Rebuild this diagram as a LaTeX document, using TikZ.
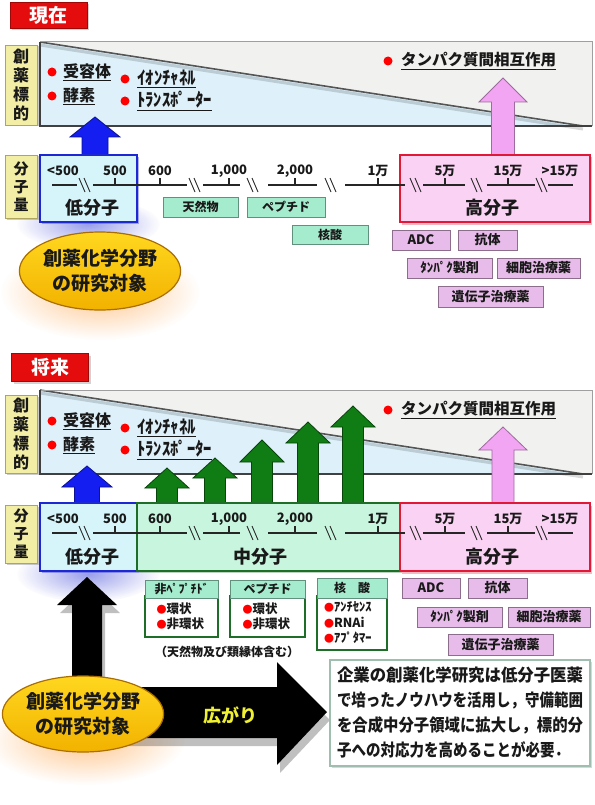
\documentclass[tikz,border=0pt]{standalone}
\usepackage{fontspec}
\setmainfont{Noto Sans CJK JP}
\usepackage{graphicx}
\usetikzlibrary{shadows,fadings,shapes.geometric}
\definecolor{tagred}{RGB}{228,12,12}
\definecolor{labyel}{RGB}{243,238,165}
\definecolor{labyeld}{RGB}{175,165,95}
\definecolor{bandblue}{RGB}{222,240,250}
\definecolor{bandgray}{RGB}{241,241,239}
\definecolor{bandline}{RGB}{85,85,85}
\definecolor{lowfill}{RGB}{214,245,250}
\definecolor{lowdraw}{RGB}{30,40,210}
\definecolor{midfill}{RGB}{200,245,222}
\definecolor{middraw}{RGB}{30,110,40}
\definecolor{hifill}{RGB}{250,210,243}
\definecolor{hidraw}{RGB}{225,25,55}
\definecolor{mint}{RGB}{165,235,205}
\definecolor{mintd}{RGB}{95,145,125}
\definecolor{pinkb}{RGB}{232,188,234}
\definecolor{pinkbd}{RGB}{140,110,140}
\definecolor{arrblue}{RGB}{20,30,240}
\definecolor{arrpink}{RGB}{242,165,242}
\definecolor{arrgreen}{RGB}{15,125,20}
\definecolor{ellfill}{RGB}{248,200,10}
\definecolor{elldraw}{RGB}{170,110,0}
\definecolor{txt}{RGB}{25,25,25}
\definecolor{boxline}{RGB}{160,190,175}
\definecolor{glyellow}{RGB}{240,240,50}
\newcommand\fs[1]{\fontsize{#1}{#1}\selectfont\bfseries}
\tikzfading[name=fuzzy, inner color=transparent!0, outer color=transparent!100]
\newcommand\blkup[7]{\draw[#1] (#2,#3) -- (#2+#4,#5) -- (#2+#6,#5) -- (#2+#6,#7) -- (#2-#6,#7) -- (#2-#6,#5) -- (#2-#4,#5) -- cycle;}
\newcommand\btn[7]{%
 \pgfmathsetmacro\mybw{#5-#3}\pgfmathsetmacro\mybh{#6-#4}%
 \pgfmathsetmacro\mybx{(#3+#5)/2}\pgfmathsetmacro\myby{(#4+#6)/2}%
 \node[#2, minimum width=\mybw pt, minimum height=\mybh pt] (#1) at (\mybx,\myby) {#7};}
\newcommand\drawband[1]{%
 \fill[bandblue] (40,#1) rectangle (592,#1+84);
 \fill[bandgray] (40,#1) -- (592,#1) -- (592,#1+84) -- (583,#1+84) -- cycle;
 \draw[black, line width=3, opacity=0.15] (40,#1+3) -- (583,#1+87);
 \draw[bandline, line width=1.6] (40,#1) -- (583,#1+84);
 \draw[gray!75, line width=1] (40,#1) -- (592,#1) -- (592,#1+84);
 \draw[black!75, line width=1.6] (592,#1+84) -- (40,#1+84) -- (40,#1);
}
\newcommand\bandtexts[2]{%
 \node[reddot] (da#2) at (52,72+#1) {};
 \node[tgt] (ta#2) at (63,72+#1) {\underline{受容体}};
 \node[reddot] (db#2) at (52,96+#1) {};
 \node[tgt] (tb#2) at (63,96+#1) {\underline{酵素}};
 \node[reddot] (dc#2) at (125,79+#1) {};
 \node[tgt, font=\fs{18}] (tc#2) at (137,79+#1) {\underline{\resizebox{59pt}{\height}{ｲｵﾝﾁｬﾈﾙ}}};
 \node[reddot] (dd#2) at (125,101+#1) {};
 \node[tgt, font=\fs{18}] (td#2) at (137,101+#1) {\underline{\resizebox{75pt}{\height}{ﾄﾗﾝｽﾎﾟｰﾀｰ}}};
 \node[reddot] (de#2) at (388,61+#1) {};
 \node[tgt, font=\fs{15.5}] (te#2) at (401,61+#1) {\underline{タンパク質間相互作用}};
}
\newcommand\molaxis[2]{%
 \foreach \a/\b in {52/77,93/187,203/240,268/317,345/405,423/465,487/535,548/573} \draw[axl] (\a,#1) -- (\b,#1);
 \foreach \c in {85,195,253,331,416,477,542} {\draw[brk] (\c-6,#1-7) -- (\c,#1+7); \draw[brk] (\c-1,#1-7) -- (\c+5,#1+7);}
 \foreach \c in {115,160,229,295,378,445,508} \draw[tck] (\c,#1) -- (\c,#1-7);
 \foreach \x/\t [count=\i] in {63/{<500},115/500,160/600,229/{1,000},295/{2,000},378/1万,445/5万,508/15万,560/{>15万}} \node[ticklab] (tl#2-\i) at (\x,#1-14) {\t};
}
\begin{document}
\begin{tikzpicture}[x=1pt,y=-1pt,
 redtag/.style={fill=tagred, draw=tagred!70!black, line width=0.8, text=white, font=\fs{19}, inner sep=0, minimum width=77pt, drop shadow={opacity=0.35,shadow xshift=2pt,shadow yshift=-2pt}},
 labbox/.style={fill=labyel, draw=labyeld, line width=0.8, align=center, text=txt, inner sep=0, minimum width=32pt, drop shadow={shadow xshift=1.5pt, shadow yshift=-1.5pt, opacity=0.4}},
 reddot/.style={circle, fill=red, minimum size=9pt, inner sep=0},
 tgt/.style={font=\fs{16}, text=txt, anchor=west, inner sep=0},
 axl/.style={line width=1.1, black!85},
 brk/.style={line width=0.9, black!85},
 tck/.style={line width=2.2, black!85},
 ticklab/.style={font=\fs{13}, text=txt, inner sep=0},
 lowbox/.style={fill=lowfill, draw=lowdraw, line width=1.6, inner sep=0, drop shadow={shadow xshift=1.5pt, shadow yshift=-2pt, fill=lowdraw, opacity=0.35}},
 midbox/.style={fill=midfill, draw=middraw, line width=1.6, inner sep=0, drop shadow={shadow xshift=1.5pt, shadow yshift=-2pt, fill=middraw, opacity=0.3}},
 hibox/.style={fill=hifill, draw=hidraw, line width=1.6, inner sep=0, drop shadow={shadow xshift=1.5pt, shadow yshift=-2.5pt, fill=hidraw, opacity=0.3}},
 cls/.style={font=\fs{18}, text=txt, inner sep=0},
 btnG/.style={fill=mint, draw=mintd, line width=1, font=\fs{12}, text=txt, inner sep=0, drop shadow={shadow xshift=1.3pt, shadow yshift=-1.3pt, opacity=0.6, fill=mintd}},
 btnP/.style={fill=pinkb, draw=pinkbd, line width=1, font=\fs{13}, text=txt, inner sep=0, drop shadow={shadow xshift=1.3pt, shadow yshift=-1.3pt, opacity=0.6, fill=pinkbd}},
 subbody/.style={fill=white, draw=middraw, line width=1.2, align=left, text=txt, inner sep=0, font=\fontsize{12.5}{15.5}\selectfont\bfseries},
 ell/.style={ellipse, top color={rgb,255:red,255;green,215;blue,30}, bottom color={rgb,255:red,242;green,178;blue,0}, draw=elldraw, line width=1.2, align=center, text=txt, font=\fontsize{19}{25}\selectfont\bfseries, inner sep=0},
 arrB/.style={fill=arrblue, draw=arrblue!60!black, line width=0.8},
 arrP/.style={fill=arrpink, draw=arrpink!65!black, line width=0.8},
 arrG/.style={fill=arrgreen, draw=arrgreen!55!black, line width=0.8},
 infobox/.style={fill=white, draw=boxline, line width=1.5, align=left, text=txt, inner sep=0, font=\fontsize{17}{25}\selectfont\bfseries, drop shadow={shadow xshift=2pt, shadow yshift=-2pt, opacity=0.3}}
]
\useasboundingbox (0,0) rectangle (594,805);
\fill[white] (0,0) rectangle (594,805);

% ================= 現在 =================
\node[redtag, minimum height=26pt] (now) at (48.5,15.5) {現在};
\drawband{42}
\node[labbox, minimum height=80pt, font=\fontsize{16}{19}\selectfont\bfseries] (tgt1) at (21,85) {創\\薬\\標\\的};
\bandtexts{0}{1}
% glows
\fill[lowdraw, opacity=0.45, path fading=fuzzy] (88,224) ellipse [x radius=72pt, y radius=26pt];
\fill[orange, opacity=0.45, path fading=fuzzy] (100,292) ellipse [x radius=100pt, y radius=48pt];
% arrows
\blkup{arrB}{95}{117}{25}{137}{13}{157}
\blkup{arrP}{503}{78}{24}{102}{11.5}{157}
% boxes
\node[labbox, minimum height=63pt, font=\fontsize{15}{18}\selectfont\bfseries] (mw1) at (21,186.5) {分\\子\\量};
\node[lowbox, minimum width=97pt, minimum height=67pt] (low1) at (88.5,188.5) {};
\node[hibox, minimum width=190pt, minimum height=67pt] (hi1) at (495,188.5) {};
\molaxis{185}{1}
\node[cls] (lowl1) at (92,208) {低分子};
\node[cls] (hil1) at (492,208) {高分子};
\btn{nat1}{btnG}{163}{197}{238}{217}{天然物}
\btn{pep1}{btnG}{247}{197}{325}{217}{ペプチド}
\btn{nuc1}{btnG}{292}{225}{368}{244}{核酸}
\btn{adc1}{btnP}{392}{230}{450}{250}{ADC}
\btn{ab1}{btnP}{458}{230}{517}{250}{抗体}
\btn{pro1}{btnP}{407}{258}{492}{278}{ﾀﾝﾊﾟｸ製剤}
\btn{cel1}{btnP}{497}{258}{580}{278}{細胞治療薬}
\btn{gen1}{btnP}{438}{286}{543}{307}{遺伝子治療薬}
\node[ell, minimum width=156pt, minimum height=78pt] (e1) at (100,271) {創薬化学分野\\の研究対象};

% ================= 将来 =================
\node[redtag, minimum height=28pt] (fut) at (50,367.5) {将来};
\drawband{390}
\node[labbox, minimum height=78pt, font=\fontsize{16}{19}\selectfont\bfseries] (tgt2) at (21,434) {創\\薬\\標\\的};
\bandtexts{349}{2}
% glows
\fill[lowdraw, opacity=0.45, path fading=fuzzy] (88,574) ellipse [x radius=72pt, y radius=28pt];
\fill[orange, opacity=0.45, path fading=fuzzy] (85,740) ellipse [x radius=100pt, y radius=45pt];
% arrows
\blkup{arrB}{87}{466}{25}{487}{12.5}{505}
\blkup{arrP}{503}{427}{24}{450}{11}{505}
\blkup{arrG}{167}{468}{22}{488}{10.5}{505}
\blkup{arrG}{215}{458}{22}{478}{10.5}{505}
\blkup{arrG}{262}{440}{22}{462}{10.5}{505}
\blkup{arrG}{308}{422}{22}{443}{10.5}{505}
\blkup{arrG}{353}{406}{22}{427}{10.5}{505}
% boxes
\node[labbox, minimum height=58pt, font=\fontsize{15}{18}\selectfont\bfseries] (mw2) at (21,534) {分\\子\\量};
\node[lowbox, minimum width=97pt, minimum height=68pt] (low2) at (88.5,537) {};
\node[midbox, minimum width=263pt, minimum height=68pt] (mid2) at (268.5,537) {};
\node[hibox, minimum width=190pt, minimum height=68pt] (hi2) at (495,537) {};
\molaxis{533}{2}
\node[cls] (lowl2) at (92,557) {低分子};
\node[cls] (midl2) at (260,557) {中分子};
\node[cls] (hil2) at (492,557) {高分子};
% sub boxes
\btn{b1}{subbody}{145}{596}{218}{637}{\raisebox{-3pt}{\parbox{50pt}{{\color{red}\fs{10}●}環状\\{\color{red}\fs{10}●}非環状}}}
\btn{b2}{subbody}{230}{596}{305}{637}{\raisebox{-3pt}{\parbox{50pt}{{\color{red}\fs{10}●}環状\\{\color{red}\fs{10}●}非環状}}}
\btn{b3}{subbody}{317}{596}{387}{650}{\raisebox{-2pt}{\parbox{56pt}{{\color{red}\fs{10}●}ｱﾝﾁｾﾝｽ\\{\color{red}\fs{10}●}RNAi\\{\color{red}\fs{10}●}ｱﾌﾟﾀﾏｰ}}}
\btn{h1}{btnG}{145}{580}{218}{598}{非ﾍﾟﾌﾟﾁﾄﾞ}
\btn{h2}{btnG}{230}{580}{305}{598}{ペプチド}
\btn{h3}{btnG}{317}{578}{387}{598}{核　酸}
\node[font=\fs{12}, text=txt, inner sep=0] (note) at (227,652) {（天然物及び類縁体含む）};
\btn{adc2}{btnP}{402}{578}{460}{598}{ADC}
\btn{ab2}{btnP}{468}{578}{527}{598}{抗体}
\btn{pro2}{btnP}{417}{607}{502}{627}{ﾀﾝﾊﾟｸ製剤}
\btn{cel2}{btnP}{508}{607}{590}{627}{細胞治療薬}
\btn{gen2}{btnP}{448}{634}{553}{655}{遺伝子治療薬}
% black L arrow
\fill[black, drop shadow={shadow xshift=3pt, shadow yshift=-8pt, opacity=0.25, fill=black}] (87,577) -- (117,605) -- (102,605) -- (102,687) -- (277,687) -- (277,662) -- (327,712) -- (277,765) -- (277,738) -- (72,738) -- (72,605) -- (57,605) -- cycle;
\node[font=\fs{18}, text=glyellow, inner sep=0] (spread) at (230,715) {広がり};
\node[ell, minimum width=154pt, minimum height=76pt] (e2) at (83,714) {創薬化学分野\\の研究対象};
\node[infobox, minimum width=260pt, minimum height=106pt] (info) at (460,713) {%
\resizebox{246pt}{\height}{企業の創薬化学研究は低分子医薬}\\
\resizebox{246pt}{\height}{で培ったノウハウを活用し，守備範囲}\\
\resizebox{246pt}{\height}{を合成中分子領域に拡大し，標的分}\\
\resizebox{232pt}{\height}{子への対応力を高めることが必要．}};
\end{tikzpicture}
\end{document}
